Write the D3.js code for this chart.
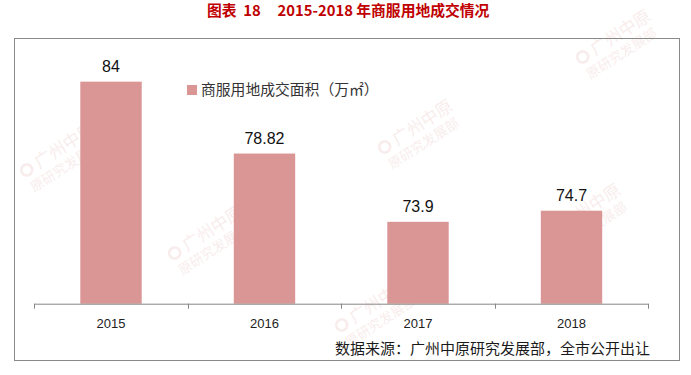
<!DOCTYPE html>
<html>
<head>
<meta charset="utf-8">
<script src="https://cdn.jsdelivr.net/npm/d3@7"></script>
<style>
  html, body { margin: 0; padding: 0; background: #fff; }
  svg { display: block; }
</style>
</head>
<body>
<div id="chart"></div>
<script>
// chart data
const years = ['2015', '2016', '2017', '2018'];
const areaValues = [84, 78.82, 73.9, 74.7];
const valueLabels = ['84', '78.82', '73.9', '74.7'];
const seriesName = '商服用地成交面积（万㎡）';
const sourceNote = '数据来源：广州中原研究发展部，全市公开出让';

const W = 691;
const H = 375;

let svg = d3
  .select('#chart')
  .append('svg')
  .attr('width', W)
  .attr('height', H);

// faint watermarks (drawn first so they sit behind everything)
const marks = [
  [388, 152], [586, 62], [30, 175], [178, 258], [556, 236], [345, 330],
];

let wm = svg
  .append('g')
  .attr('class', 'watermarks')
  .selectAll('g')
  .data(marks)
  .enter()
  .append('g')
  .attr('transform', (d) => `translate(${d[0]},${d[1]}) rotate(-33)`)
  .style('opacity', 0.1);

wm
  .append('circle')
  .attr('cx', 0)
  .attr('cy', -6)
  .attr('r', 5.5)
  .style('fill', 'none')
  .style('stroke', '#c0504d')
  .style('stroke-width', 2.5);

wm
  .append('text')
  .attr('x', 11)
  .attr('y', 0)
  .attr('font-family', '"Noto Sans CJK SC", sans-serif')
  .attr('font-size', 17)
  .style('fill', '#c0504d')
  .text('广州中原');

wm
  .append('text')
  .attr('x', -6)
  .attr('y', 17)
  .attr('font-family', '"Noto Sans CJK SC", sans-serif')
  .attr('font-size', 13.5)
  .style('fill', '#c0504d')
  .text('原研究发展部');

// title
svg
  .append('text')
  .attr('x', 207)
  .attr('y', 16)
  .attr('font-family', '"Noto Sans CJK SC", sans-serif')
  .attr('font-weight', 'bold')
  .attr('font-size', 14.8)
  .style('fill', '#c00000')
  .attr('xml:space', 'preserve')
  .text('图表  18     2015-2018 年商服用地成交情况');

// outer frame
svg
  .append('rect')
  .attr('x', 14.5)
  .attr('y', 38.5)
  .attr('width', 665)
  .attr('height', 322)
  .style('fill', 'none')
  .style('stroke', '#8a8a8a')
  .style('stroke-width', 1);

// scales
let x = d3
  .scaleBand()
  .domain(years)
  .range([34.25, 648.25])
  .paddingInner(0.6)
  .paddingOuter(0.3);

let y = d3.scaleLinear().domain([68, 86]).range([303.7, 53.9]);

// bars
svg
  .append('g')
  .selectAll('rect')
  .data(areaValues)
  .enter()
  .append('rect')
  .attr('x', (d, i) => x(years[i]))
  .attr('y', (d) => y(d))
  .attr('width', x.bandwidth())
  .attr('height', (d) => y(68) - y(d))
  .style('fill', '#d99694');

// value labels
svg
  .append('g')
  .selectAll('text')
  .data(areaValues)
  .enter()
  .append('text')
  .attr('x', (d, i) => x(years[i]) + x.bandwidth() / 2)
  .attr('y', (d) => y(d) - 10)
  .attr('text-anchor', 'middle')
  .attr('font-family', '"Liberation Sans", Arial, sans-serif')
  .attr('font-size', 16)
  .style('fill', '#111')
  .text((d, i) => valueLabels[i]);

// x axis (labels from d3 axis, Excel style ticks at band edges)
let axis = svg
  .append('g')
  .attr('transform', `translate(0,${y(68)})`)
  .call(d3.axisBottom(x).tickSize(0).tickPadding(15.5));

axis.select('.domain').remove();
axis
  .selectAll('text')
  .attr('font-family', '"Liberation Sans", Arial, sans-serif')
  .attr('font-size', 13)
  .style('fill', '#222');

const step = x.step();
const x0 = x.range()[0];
const edges = d3.range(years.length + 1).map((i) => x0 + i * step);

axis
  .append('line')
  .attr('x1', x0)
  .attr('x2', x.range()[1])
  .attr('y1', 0.5)
  .attr('y2', 0.5)
  .style('stroke', '#868686');

axis
  .selectAll('.edge-tick')
  .data(edges)
  .enter()
  .append('line')
  .attr('class', 'edge-tick')
  .attr('x1', (d) => Math.round(d) + 0.5)
  .attr('x2', (d) => Math.round(d) + 0.5)
  .attr('y1', 0)
  .attr('y2', 5)
  .style('stroke', '#868686');

// legend
svg
  .append('rect')
  .attr('x', 187)
  .attr('y', 85)
  .attr('width', 10)
  .attr('height', 10)
  .style('fill', '#d99694');

svg
  .append('text')
  .attr('x', 201)
  .attr('y', 95)
  .attr('font-family', '"Noto Sans CJK SC", sans-serif')
  .attr('font-size', 14.8)
  .style('fill', '#333')
  .text(seriesName);

// source note
svg
  .append('text')
  .attr('x', 650)
  .attr('y', 353.5)
  .attr('text-anchor', 'end')
  .attr('font-family', '"Noto Sans CJK SC", sans-serif')
  .attr('font-size', 15)
  .style('fill', '#1a1a1a')
  .text(sourceNote);
</script>
</body>
</html>
